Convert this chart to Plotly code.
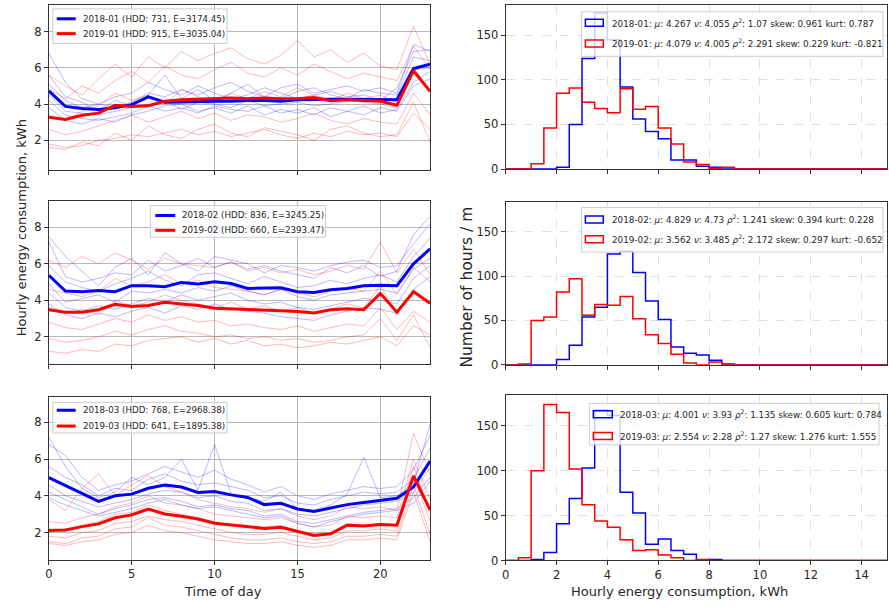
import plotly.graph_objects as go

W, H = 889, 610

HOURS = list(range(24))
BIN_EDGES = [i * 0.5 for i in range(31)]

# ---- mean hourly profiles (thick lines) ----
MEAN_2018_01 = [4.73, 3.87, 3.75, 3.70, 3.80, 3.97, 4.40, 4.10, 4.12, 4.15, 4.15, 4.15, 4.20, 4.20, 4.15, 4.24,
                4.27, 4.27, 4.27, 4.27, 4.27, 4.24, 5.96, 6.20]
MEAN_2019_01 = [3.27, 3.15, 3.38, 3.50, 3.93, 3.87, 3.90, 4.15, 4.24, 4.27, 4.33, 4.33, 4.30, 4.33, 4.30, 4.30,
                4.36, 4.18, 4.24, 4.18, 4.15, 3.93, 5.84, 4.70]
MEAN_2018_02 = [5.37, 4.51, 4.47, 4.54, 4.47, 4.80, 4.80, 4.74, 4.98, 4.90, 5.01, 4.92, 4.65, 4.65, 4.69, 4.47,
                4.43, 4.58, 4.65, 4.80, 4.83, 4.80, 6.00, 6.82]
MEAN_2019_02 = [3.48, 3.35, 3.35, 3.48, 3.78, 3.66, 3.71, 3.89, 3.80, 3.71, 3.57, 3.53, 3.48, 3.42, 3.42, 3.39,
                3.30, 3.48, 3.53, 3.48, 4.38, 3.35, 4.47, 3.84]
MEAN_2018_03 = [4.99, 4.54, 4.13, 3.70, 4.00, 4.09, 4.41, 4.59, 4.48, 4.18, 4.23, 4.05, 3.91, 3.52, 3.59, 3.28,
                3.14, 3.34, 3.52, 3.64, 3.77, 3.87, 4.48, 5.89]
MEAN_2019_03 = [2.11, 2.14, 2.32, 2.47, 2.80, 2.96, 3.28, 3.01, 2.89, 2.74, 2.51, 2.40, 2.29, 2.22, 2.29, 2.07,
                1.84, 1.93, 2.40, 2.36, 2.43, 2.40, 5.08, 3.23]

# ---- a few individual daily profiles (faint lines, estimated) ----
DAYS_2018_01 = [
    [6.8, 5.2, 4.3, 4.0, 3.8, 4.1, 4.6, 4.4, 4.8, 4.5, 4.9, 5.2, 4.7, 4.4, 4.9, 5.1, 4.6, 4.8, 5.0, 4.7, 4.9, 4.6, 7.3, 6.9],
    [4.2, 3.4, 3.2, 3.1, 3.3, 3.5, 3.9, 3.6, 3.8, 3.5, 3.9, 3.7, 3.6, 3.9, 3.5, 3.7, 3.4, 3.8, 3.6, 3.9, 3.5, 3.7, 5.2, 5.8],
    [5.6, 4.4, 4.1, 3.6, 4.2, 3.9, 4.5, 5.6, 4.3, 4.8, 4.2, 4.6, 5.1, 4.4, 4.3, 4.7, 4.9, 4.5, 4.3, 4.8, 4.6, 4.5, 6.6, 6.4],
    [3.8, 3.1, 2.9, 3.2, 3.0, 3.4, 3.6, 3.9, 4.0, 3.6, 3.8, 3.5, 3.9, 3.4, 3.7, 3.5, 3.8, 3.3, 3.6, 3.4, 3.8, 3.6, 5.0, 5.4],
    [5.1, 4.2, 3.8, 4.0, 4.4, 4.6, 5.2, 4.8, 4.5, 5.0, 4.6, 4.3, 4.5, 4.9, 4.6, 4.3, 4.5, 4.7, 4.4, 4.5, 4.2, 4.9, 6.9, 7.0],
    [4.5, 3.6, 3.5, 3.4, 3.6, 3.8, 4.0, 4.2, 3.7, 4.1, 4.0, 3.8, 4.2, 3.9, 4.0, 4.1, 3.9, 4.0, 4.2, 4.1, 4.0, 3.8, 5.9, 6.0],
]
DAYS_2019_01 = [
    [1.8, 1.6, 1.7, 2.0, 2.1, 2.3, 2.2, 2.4, 2.6, 2.3, 2.5, 2.2, 2.4, 2.6, 2.3, 2.1, 2.4, 2.2, 2.5, 2.3, 2.4, 2.2, 3.5, 2.6],
    [2.6, 2.3, 2.5, 2.8, 3.1, 3.4, 3.0, 3.3, 3.6, 3.2, 3.5, 3.1, 3.4, 3.3, 3.0, 3.2, 3.5, 3.1, 2.9, 3.2, 3.0, 2.9, 4.6, 3.4],
    [4.8, 4.3, 5.0, 4.6, 5.3, 5.8, 5.2, 6.1, 5.6, 5.4, 5.9, 6.3, 5.7, 5.5, 6.0, 5.6, 6.2, 5.8, 5.4, 5.7, 5.5, 5.3, 7.2, 5.9],
    [3.4, 3.1, 3.6, 3.9, 4.6, 4.2, 4.5, 4.0, 4.8, 4.4, 4.1, 4.6, 4.3, 4.7, 4.4, 4.9, 4.5, 4.2, 4.6, 4.3, 4.5, 4.1, 6.0, 4.8],
    [5.6, 5.0, 4.5, 5.4, 6.2, 5.5, 6.6, 6.0, 6.9, 6.4, 6.8, 7.1, 6.5, 6.2, 6.7, 7.5, 6.6, 7.0, 6.3, 6.8, 6.1, 5.9, 8.3, 6.2],
    [1.6, 1.5, 1.9, 1.7, 2.4, 2.0, 2.8, 2.3, 2.1, 2.6, 2.9, 2.4, 2.2, 2.7, 2.5, 2.3, 2.0, 2.6, 2.8, 2.4, 2.2, 2.3, 4.1, 1.9],
]
DAYS_2018_02 = [
    [7.2, 5.3, 5.0, 5.2, 5.5, 5.4, 6.2, 5.6, 5.9, 6.3, 5.8, 6.1, 5.7, 5.9, 5.6, 5.4, 5.2, 5.8, 5.5, 5.9, 5.3, 5.6, 7.6, 8.6],
    [4.4, 3.6, 3.4, 3.7, 3.5, 3.8, 4.1, 3.9, 4.3, 4.0, 4.2, 4.4, 4.0, 3.8, 3.9, 3.6, 3.5, 3.7, 3.9, 4.1, 4.0, 3.8, 5.2, 5.9],
    [5.9, 5.0, 4.7, 4.5, 4.9, 5.2, 5.6, 5.1, 4.8, 5.4, 5.5, 5.2, 4.9, 5.3, 5.0, 4.7, 4.8, 5.1, 4.9, 5.2, 5.4, 5.0, 6.4, 7.4],
    [4.9, 3.9, 4.1, 4.3, 3.9, 4.5, 4.4, 4.6, 4.4, 4.7, 4.5, 4.8, 4.5, 4.3, 4.6, 4.2, 4.0, 4.3, 4.4, 4.5, 4.6, 4.4, 5.7, 6.3],
    [7.5, 6.4, 5.6, 4.8, 5.8, 6.3, 5.4, 6.6, 6.0, 5.6, 6.4, 6.2, 6.0, 5.5, 5.9, 5.8, 5.6, 5.9, 6.1, 6.2, 5.8, 5.9, 7.1, 8.2],
    [3.8, 3.2, 3.0, 3.3, 3.1, 3.4, 3.6, 3.3, 3.7, 3.5, 3.8, 3.5, 3.4, 3.3, 3.1, 3.0, 2.9, 3.2, 3.4, 3.6, 3.5, 3.3, 4.6, 5.3],
]
DAYS_2019_02 = [
    [1.2, 1.1, 1.3, 1.2, 1.6, 1.5, 1.8, 1.9, 2.0, 1.7, 1.9, 1.6, 1.8, 1.5, 1.6, 1.4, 1.5, 1.7, 1.6, 1.8, 2.0, 1.5, 2.6, 2.1],
    [2.8, 2.5, 2.4, 2.7, 3.0, 2.8, 3.2, 2.9, 3.1, 2.8, 2.9, 2.6, 2.7, 2.5, 2.4, 2.6, 2.3, 2.5, 2.7, 2.6, 3.6, 2.4, 3.4, 2.8],
    [4.6, 4.4, 4.2, 4.5, 5.2, 4.8, 5.0, 5.4, 4.9, 5.1, 4.7, 4.6, 4.5, 4.3, 4.6, 4.4, 4.2, 4.5, 4.7, 4.5, 5.6, 4.3, 5.8, 5.0],
    [3.6, 3.3, 3.5, 3.2, 4.0, 3.7, 3.9, 4.3, 4.0, 3.8, 3.6, 3.9, 3.5, 3.7, 3.4, 3.6, 3.3, 3.5, 3.8, 3.6, 4.8, 3.2, 4.6, 3.9],
    [6.2, 5.8, 6.4, 6.0, 6.6, 6.2, 5.7, 6.3, 6.0, 5.9, 5.8, 6.1, 5.6, 5.8, 5.5, 5.7, 5.4, 5.6, 5.9, 5.7, 7.2, 5.5, 6.8, 5.4],
    [1.9, 1.7, 1.8, 2.0, 2.3, 2.1, 2.4, 2.6, 2.3, 2.2, 2.0, 2.1, 1.9, 2.0, 1.8, 1.9, 1.7, 1.8, 2.0, 2.1, 3.0, 1.8, 3.2, 1.4],
]
DAYS_2018_03 = [
    [6.8, 6.2, 5.0, 4.3, 4.6, 4.8, 5.2, 5.6, 5.3, 5.0, 5.4, 4.9, 4.6, 4.2, 4.5, 4.0, 3.8, 4.1, 4.3, 4.5, 4.4, 4.5, 5.4, 7.3],
    [4.2, 3.8, 3.4, 3.0, 3.3, 3.5, 3.8, 3.9, 3.7, 3.4, 3.5, 3.3, 3.2, 2.9, 3.0, 2.6, 2.5, 2.7, 2.9, 3.1, 3.2, 3.3, 3.9, 5.0],
    [5.6, 5.0, 4.6, 4.0, 4.4, 4.3, 4.9, 5.2, 4.8, 4.6, 4.7, 4.5, 4.3, 3.9, 4.0, 3.6, 3.5, 3.8, 4.0, 4.2, 4.1, 4.2, 4.9, 6.6],
    [4.6, 4.0, 3.7, 3.4, 3.6, 3.8, 4.1, 4.3, 4.2, 3.9, 4.0, 3.7, 3.6, 3.2, 3.3, 3.0, 2.9, 3.1, 3.3, 3.5, 3.6, 3.7, 4.2, 5.5],
    [7.2, 5.6, 4.4, 3.9, 4.2, 5.0, 4.6, 5.0, 6.0, 4.3, 6.8, 4.1, 3.9, 3.7, 4.2, 3.3, 3.2, 3.5, 4.1, 6.1, 3.9, 4.0, 4.7, 7.9],
    [3.9, 3.5, 3.2, 2.9, 3.1, 3.3, 3.6, 3.8, 3.5, 3.3, 3.4, 3.2, 3.0, 2.8, 2.9, 2.5, 2.3, 2.6, 2.8, 3.0, 3.1, 3.2, 3.6, 4.8],
]
DAYS_2019_03 = [
    [1.4, 1.3, 1.5, 1.6, 1.9, 2.0, 2.4, 2.1, 2.0, 1.8, 1.6, 1.5, 1.4, 1.4, 1.5, 1.3, 1.2, 1.3, 1.6, 1.6, 1.7, 1.6, 4.2, 1.5],
    [2.6, 2.5, 2.8, 3.0, 3.4, 3.6, 4.0, 3.6, 3.5, 3.3, 3.0, 2.9, 2.8, 2.7, 2.8, 2.5, 2.3, 2.4, 2.9, 2.8, 2.9, 2.8, 6.0, 3.8],
    [1.8, 1.7, 2.0, 2.1, 2.5, 2.6, 2.9, 2.7, 2.6, 2.4, 2.2, 2.0, 1.9, 1.9, 2.0, 1.8, 1.6, 1.7, 2.1, 2.1, 2.2, 2.1, 5.1, 2.6],
    [3.8, 3.2, 4.4, 5.2, 4.0, 4.6, 5.1, 4.5, 4.2, 3.8, 3.6, 3.4, 3.3, 3.1, 3.3, 2.9, 2.7, 2.9, 3.4, 3.3, 3.4, 3.2, 7.4, 5.2],
    [1.5, 1.4, 1.7, 1.8, 2.2, 2.3, 2.8, 2.4, 2.3, 2.1, 1.9, 1.7, 1.6, 1.6, 1.7, 1.5, 1.4, 1.5, 1.8, 1.8, 1.9, 1.8, 4.6, 1.9],
    [2.2, 2.1, 2.4, 2.6, 3.0, 3.1, 3.5, 3.2, 3.0, 2.8, 2.6, 2.4, 2.3, 2.3, 2.4, 2.1, 1.9, 2.0, 2.5, 2.4, 2.5, 2.4, 5.6, 3.1],
]

# ---- histogram counts, 30 bins of 0.5 kWh from 0 to 15 ----
HIST_2018_01 = [0, 0, 0, 0, 2, 50, 124, 175, 145, 92, 56, 42, 34, 10, 10, 3, 2, 0, 0, 0, 0, 0, 0, 0, 0, 0, 0, 0, 0, 0]
HIST_2019_01 = [0, 0, 6, 46, 85, 91, 75, 68, 63, 90, 67, 70, 46, 28, 8, 5, 1, 2, 0, 0, 0, 0, 0, 0, 0, 0, 0, 0, 0, 0]
HIST_2018_02 = [0, 0, 0, 0, 6, 22, 54, 65, 125, 128, 104, 72, 51, 20, 13, 11, 5, 1, 0, 0, 0, 0, 0, 0, 0, 0, 0, 0, 0, 0]
HIST_2019_02 = [0, 1, 50, 54, 82, 97, 56, 68, 67, 77, 52, 34, 24, 12, 2, 0, 3, 0, 0, 0, 0, 0, 0, 0, 0, 0, 0, 0, 0, 0]
HIST_2018_03 = [0, 0, 1, 9, 41, 69, 103, 168, 162, 76, 53, 18, 24, 11, 7, 0, 1, 0, 0, 0, 0, 0, 0, 0, 0, 0, 0, 0, 0, 0]
HIST_2019_03 = [0, 3, 100, 174, 165, 102, 62, 44, 37, 23, 11, 12, 6, 3, 0, 1, 0, 0, 0, 0, 0, 0, 0, 0, 0, 0, 0, 0, 0, 0]

# ---- legend texts ----
PROFILE_LABELS = [
    ("2018-01 (HDD: 731, E=3174.45)", "2019-01 (HDD: 915, E=3035.04)"),
    ("2018-02 (HDD: 836, E=3245.25)", "2019-02 (HDD: 660, E=2393.47)"),
    ("2018-03 (HDD: 768, E=2968.38)", "2019-03 (HDD: 641, E=1895.38)"),
]
STAT_LABELS = [
    ("2018-01: <i>μ</i>: 4.267 <i>ν</i>: 4.055 <i>ρ</i><sup>2</sup>: 1.07 skew: 0.961 kurt: 0.787",
     "2019-01: <i>μ</i>: 4.079 <i>ν</i>: 4.005 <i>ρ</i><sup>2</sup>: 2.291 skew: 0.229 kurt: -0.821"),
    ("2018-02: <i>μ</i>: 4.829 <i>ν</i>: 4.73 <i>ρ</i><sup>2</sup>: 1.241 skew: 0.394 kurt: 0.228",
     "2019-02: <i>μ</i>: 3.562 <i>ν</i>: 3.485 <i>ρ</i><sup>2</sup>: 2.172 skew: 0.297 kurt: -0.652"),
    ("2018-03: <i>μ</i>: 4.001 <i>ν</i>: 3.93 <i>ρ</i><sup>2</sup>: 1.135 skew: 0.605 kurt: 0.784",
     "2019-03: <i>μ</i>: 2.554 <i>ν</i>: 2.28 <i>ρ</i><sup>2</sup>: 1.27 skew: 1.276 kurt: 1.555"),
]

X_TICKS_LEFT = [0, 5, 10, 15, 20]
Y_TICKS_LEFT = [2, 4, 6, 8]
X_TICKS_RIGHT = [0, 2, 4, 6, 8, 10, 12, 14]
Y_TICKS_RIGHT = [0, 50, 100, 150]

MEANS = [(MEAN_2018_01, MEAN_2019_01), (MEAN_2018_02, MEAN_2019_02), (MEAN_2018_03, MEAN_2019_03)]
DAYS = [(DAYS_2018_01, DAYS_2019_01), (DAYS_2018_02, DAYS_2019_02), (DAYS_2018_03, DAYS_2019_03)]
HISTS = [(HIST_2018_01, HIST_2019_01), (HIST_2018_02, HIST_2019_02), (HIST_2018_03, HIST_2019_03)]

BLUE = "#0000ff"
RED = "#ff0000"
FAINT_BLUE = "rgba(0,0,255,0.28)"
FAINT_RED = "rgba(255,0,0,0.28)"
FONT = "DejaVu Sans"
TXT = "#262626"

# pixel layout
LEFT_X = (45, 428)
RIGHT_X = (504, 887)
LEFT_ROWS = [(5, 172), (203, 368), (402, 566)]
RIGHT_ROWS = [(5, 171), (204, 369), (400, 567)]
LEFT_YRANGES = [(0.36, 9.47), (0.52, 9.46), (0.53, 9.36)]
HIST_YMAX = 184


def fx(p):
    return p / W


def fy(p):
    return 1 - p / H


fig = go.Figure()
shapes = []
annotations = []

for r in range(3):
    li = 2 * r + 1
    ri = 2 * r + 2
    lx = "x" if li == 1 else f"x{li}"
    ly = "y" if li == 1 else f"y{li}"
    rx = f"x{ri}"
    ry = f"y{ri}"

    blue_days, red_days = DAYS[r]
    for d in blue_days:
        fig.add_trace(go.Scatter(x=HOURS, y=d, mode="lines", line=dict(color=FAINT_BLUE, width=1),
                                 showlegend=False, hoverinfo="skip", xaxis=lx, yaxis=ly))
    for d in red_days:
        fig.add_trace(go.Scatter(x=HOURS, y=d, mode="lines", line=dict(color=FAINT_RED, width=1),
                                 showlegend=False, hoverinfo="skip", xaxis=lx, yaxis=ly))
    mb, mr = MEANS[r]
    fig.add_trace(go.Scatter(x=HOURS, y=mb, mode="lines", line=dict(color=BLUE, width=3),
                             showlegend=False, xaxis=lx, yaxis=ly))
    fig.add_trace(go.Scatter(x=HOURS, y=mr, mode="lines", line=dict(color=RED, width=3),
                             showlegend=False, xaxis=lx, yaxis=ly))

    hb, hr = HISTS[r]
    fig.add_trace(go.Scatter(x=BIN_EDGES, y=hb + [hb[-1]], mode="lines",
                             line=dict(color=BLUE, width=1.5, shape="hv"),
                             showlegend=False, xaxis=rx, yaxis=ry))
    fig.add_trace(go.Scatter(x=BIN_EDGES, y=hr + [hr[-1]], mode="lines",
                             line=dict(color=RED, width=1.5, shape="hv"),
                             showlegend=False, xaxis=rx, yaxis=ry))

    axis_common = dict(showline=True, mirror=True, linecolor="#333333", linewidth=1,
                       ticks="outside", ticklen=4, tickcolor="#333333", zeroline=False,
                       tickfont=dict(family=FONT, size=11.5, color=TXT))
    lt, lb = LEFT_ROWS[r]
    rt, rb = RIGHT_ROWS[r]
    fig.layout[("xaxis" if li == 1 else f"xaxis{li}")] = dict(
        domain=[fx(LEFT_X[0]), fx(LEFT_X[1])], anchor=ly, range=[0, 23],
        tickvals=X_TICKS_LEFT, showticklabels=(r == 2),
        showgrid=True, gridcolor="#b8b8b8", gridwidth=1, **axis_common)
    fig.layout[("yaxis" if li == 1 else f"yaxis{li}")] = dict(
        domain=[fy(lb), fy(lt)], anchor=lx, range=list(LEFT_YRANGES[r]),
        tickvals=Y_TICKS_LEFT, showgrid=True, gridcolor="#b8b8b8", gridwidth=1, **axis_common)
    fig.layout[f"xaxis{ri}"] = dict(
        domain=[fx(RIGHT_X[0]), fx(RIGHT_X[1])], anchor=ry, range=[0, 15],
        tickvals=X_TICKS_RIGHT, showticklabels=(r == 2),
        showgrid=True, gridcolor="#e0e0e0", gridwidth=1, griddash="dash", **axis_common)
    fig.layout[f"yaxis{ri}"] = dict(
        domain=[fy(rb), fy(rt)], anchor=rx, range=[0, HIST_YMAX],
        tickvals=Y_TICKS_RIGHT, showgrid=True, gridcolor="#e0e0e0", gridwidth=1, griddash="dash",
        **axis_common)

# ---- legends ----
LEFT_LEG = [
    dict(box=(49, 9, 224, 44), sw=(53, 72), ys=(19, 34), tx=77),
    dict(box=(147, 208, 323, 240), sw=(152, 172), ys=(218, 233), tx=177),
    dict(box=(49, 407, 224, 438), sw=(53, 72), ys=(415, 431), tx=77),
]
RIGHT_LEG = [
    dict(box=(580, 12, 883, 57), sw=(584, 602), ys=(23, 44), tx=609),
    dict(box=(580, 210, 883, 255), sw=(584, 602), ys=(222, 242), tx=609),
    dict(box=(588, 408, 879, 450), sw=(592, 611), ys=(419, 441), tx=617),
]

for r in range(3):
    lg = LEFT_LEG[r]
    x0, y0, x1, y1 = lg["box"]
    shapes.append(dict(type="rect", xref="paper", yref="paper", x0=fx(x0), x1=fx(x1), y0=fy(y1), y1=fy(y0),
                       line=dict(color="#cccccc", width=1), fillcolor="rgba(255,255,255,0.8)", layer="above"))
    for k, col in enumerate([BLUE, RED]):
        yy = lg["ys"][k]
        shapes.append(dict(type="line", xref="paper", yref="paper", x0=fx(lg["sw"][0]), x1=fx(lg["sw"][1]),
                           y0=fy(yy), y1=fy(yy), line=dict(color=col, width=3), layer="above"))
        annotations.append(dict(text=PROFILE_LABELS[r][k], xref="paper", yref="paper", x=fx(lg["tx"]), y=fy(yy),
                                xanchor="left", yanchor="middle", showarrow=False,
                                font=dict(family=FONT, size=8.7, color=TXT)))

    rg = RIGHT_LEG[r]
    x0, y0, x1, y1 = rg["box"]
    shapes.append(dict(type="rect", xref="paper", yref="paper", x0=fx(x0), x1=fx(x1), y0=fy(y1), y1=fy(y0),
                       line=dict(color="#cccccc", width=1), fillcolor="rgba(255,255,255,0.8)", layer="above"))
    for k, col in enumerate([BLUE, RED]):
        yy = rg["ys"][k]
        shapes.append(dict(type="rect", xref="paper", yref="paper", x0=fx(rg["sw"][0]), x1=fx(rg["sw"][1]),
                           y0=fy(yy + 3.5), y1=fy(yy - 3.5), line=dict(color=col, width=1.5),
                           fillcolor="rgba(0,0,0,0)", layer="above"))
        annotations.append(dict(text=STAT_LABELS[r][k], xref="paper", yref="paper", x=fx(rg["tx"]), y=fy(yy),
                                xanchor="left", yanchor="middle", showarrow=False,
                                font=dict(family=FONT, size=8.8, color=TXT)))

# ---- axis titles ----
annotations += [
    dict(text="Hourly energy consumption, kWh", xref="paper", yref="paper", x=fx(17), y=fy(230),
         textangle=-90, showarrow=False, xanchor="center", yanchor="middle",
         font=dict(family=FONT, size=13, color=TXT)),
    dict(text="Number of hours / m", xref="paper", yref="paper", x=fx(465), y=fy(290),
         textangle=-90, showarrow=False, xanchor="center", yanchor="middle",
         font=dict(family=FONT, size=15.5, color=TXT)),
    dict(text="Time of day", xref="paper", yref="paper", x=fx(220), y=fy(598),
         showarrow=False, xanchor="center", yanchor="middle",
         font=dict(family=FONT, size=13, color=TXT)),
    dict(text="Hourly energy consumption, kWh", xref="paper", yref="paper", x=fx(679), y=fy(598),
         showarrow=False, xanchor="center", yanchor="middle",
         font=dict(family=FONT, size=13, color=TXT)),
]

fig.update_layout(width=W, height=H, autosize=False, margin=dict(l=0, r=0, t=0, b=0),
                  plot_bgcolor="white", paper_bgcolor="white", showlegend=False,
                  shapes=shapes, annotations=annotations, font=dict(family=FONT, color=TXT))

fig.write_html("out.html")
